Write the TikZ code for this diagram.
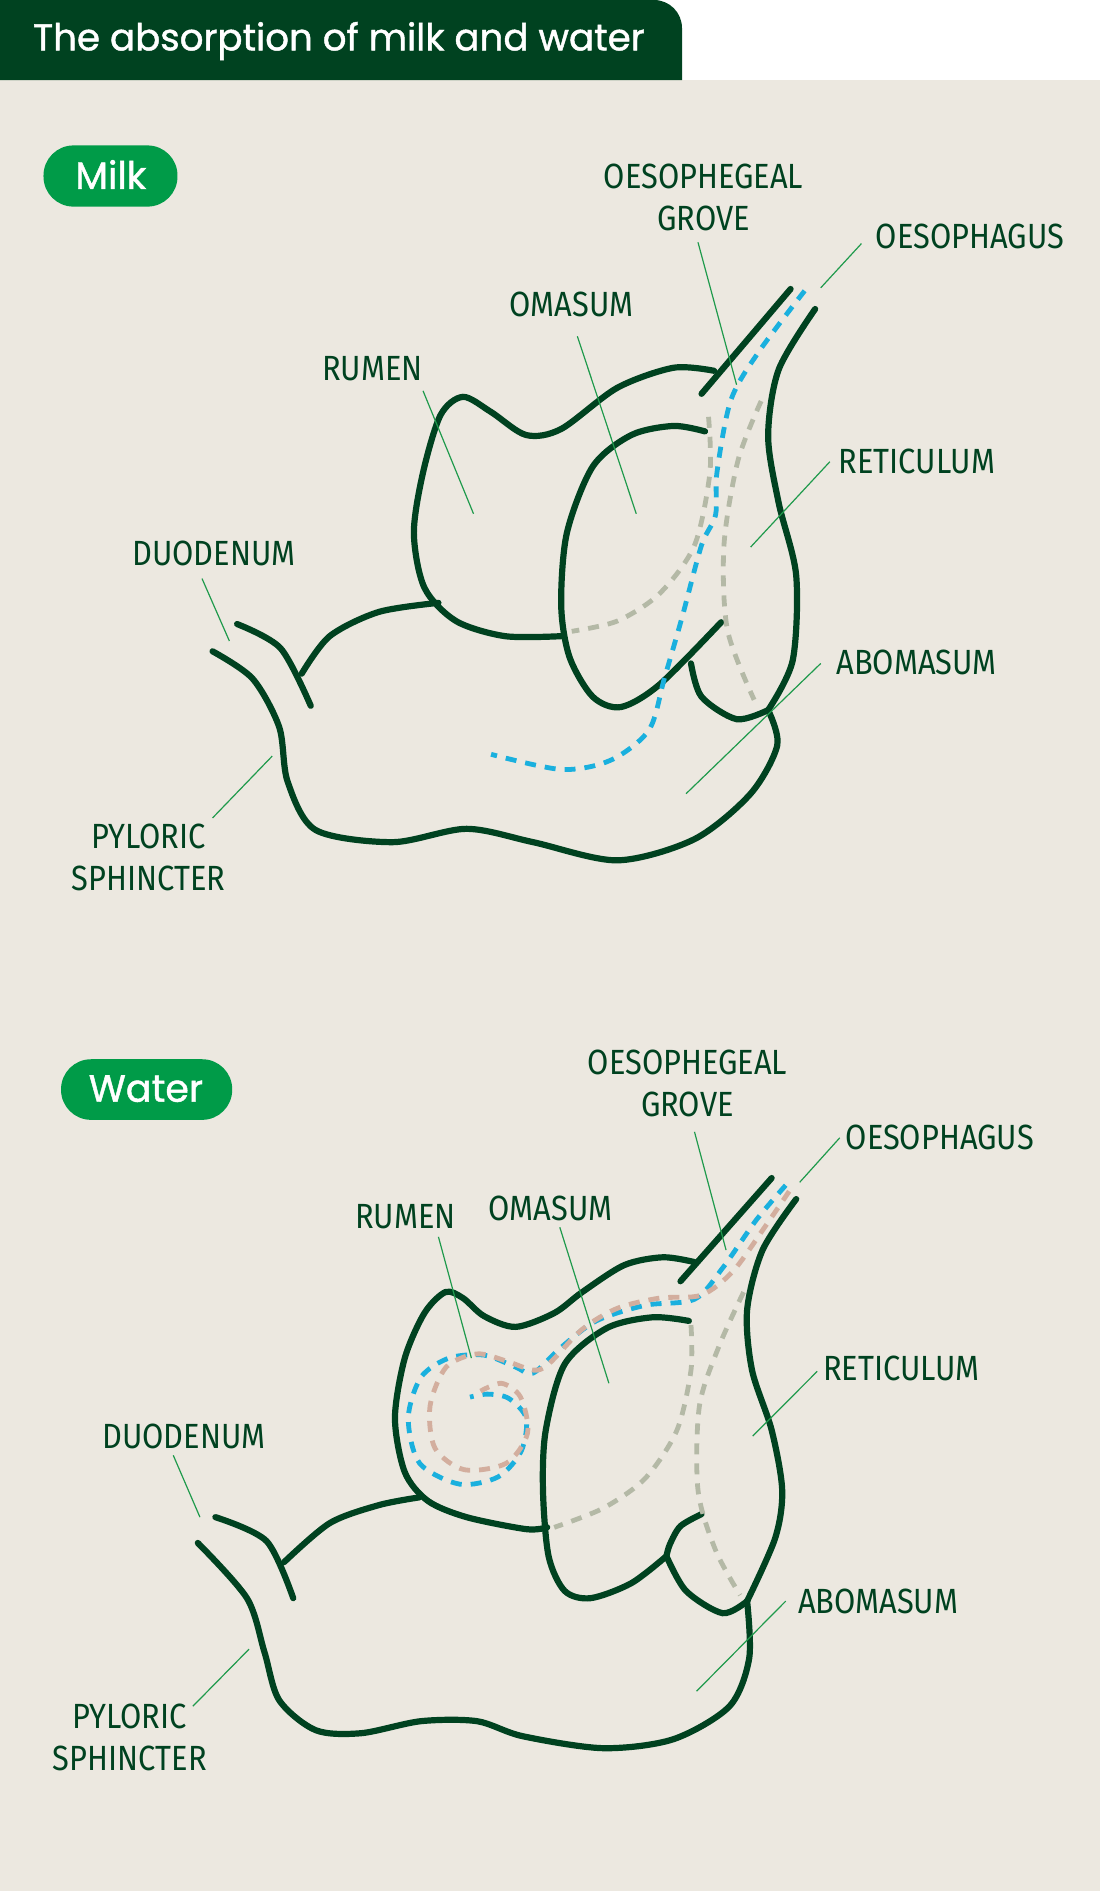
\documentclass[tikz,border=0pt]{standalone}
\usepackage{fontspec}
\newfontfamily\labfont[FakeStretch=0.88]{Fira Sans}
\newfontfamily\titfont[FakeBold=1.2]{Poppins}
\definecolor{dg}{HTML}{004220}
\definecolor{lg}{HTML}{1F9A4C}
\definecolor{pill}{HTML}{009B48}
\definecolor{bg}{HTML}{ECE8E0}
\definecolor{bl}{HTML}{1AB0DE}
\definecolor{gr}{HTML}{B4B9A6}
\definecolor{pk}{HTML}{D3AE9E}
\begin{document}
\begin{tikzpicture}[x=0.5pt,y=-0.5pt,
  organ/.style={draw=dg,line width=3.1pt,line cap=round},
  dsh/.style={line width=2.4pt,dash pattern=on 5.5pt off 4.5pt},
  lead/.style={draw=lg,line width=0.6pt},
  lab/.style={text=dg,font=\labfont\fontsize{17.5}{19}\selectfont,inner sep=0pt,align=center},
  pilltxt/.style={text=white,font=\titfont\fontsize{19}{22}\selectfont}]
\useasboundingbox (0,0) rectangle (1100,1891);
\fill[bg] (0,80) rectangle (1100,1891);
\fill[dg] (0,80) -- (0,0) [rounded corners=14pt] -- (682,0) [sharp corners] -- (682,80) -- cycle;
\node[text=white,font=\titfont\fontsize{18.6}{22}\selectfont,anchor=west] (title) at (26,41) {The absorption of milk and water};
% ---------- Milk ----------
\begin{scope}[x=0.35076pt,y=-0.30294pt]
\fill[pill,rounded corners=15pt] (62,240) rectangle (253,341);
\node[pilltxt] (milk) at (158,288) {Milk};
\draw[organ] (1000,650) -- (1127,477);
\draw[organ] plot[smooth] coordinates {(1162,510) (1110,610) (1095,720) (1110,830) (1135,950) (1130,1090) (1095,1172)};
\draw[organ] plot[smooth] coordinates {(1095,1172) (1108,1230) (1070,1310) (990,1385) (880,1420) (760,1390) (665,1368) (560,1390) (450,1370) (410,1290) (398,1200) (360,1120) (303,1075)};
\draw[organ] plot[smooth] coordinates {(1018,612) (960,607) (880,640) (800,708) (750,718) (700,680) (660,655) (628,685) (603,780) (590,880) (605,970) (650,1025) (720,1050) (800,1050)};
\draw[organ] plot[smooth] coordinates {(1005,712) (960,703) (900,718) (845,770) (808,880) (800,1000) (812,1085) (845,1150) (885,1167) (940,1130) (1028,1027)};
\draw[organ] plot[smooth] coordinates {(985,1095) (1000,1150) (1050,1187) (1095,1172)};
\draw[organ] plot[smooth] coordinates {(625,995) (540,1010) (470,1050) (430,1112)};
\draw[organ] plot[smooth] coordinates {(338,1030) (400,1070) (443,1165)};
\draw[gr,dsh] plot[smooth] coordinates {(1010,688) (1012,780) (990,900) (940,980) (880,1025) (815,1042)};
\draw[gr,dsh] plot[smooth] coordinates {(1085,662) (1052,760) (1032,900) (1037,1040) (1075,1155)};
\draw[bl,dsh] plot[smooth] coordinates {(1147,480) (1082,580) (1042,660) (1022,780) (1020,850) (1000,900) (972,1020) (947,1120) (925,1205) (870,1255) (800,1270) (700,1245)};
\node[lab] (og1) at (1003,326) {OESOPHEGEAL\\[2pt]GROVE};
\draw[lead] (995,400) -- (1050,635);
\node[lab,anchor=west] (oe1) at (1248,390) {OESOPHAGUS};
\draw[lead] (1228,402) -- (1170,475);
\node[lab] (om1) at (815,503) {OMASUM};
\draw[lead] (823,555) -- (907,848);
\node[lab] (ru1) at (531,608) {RUMEN};
\draw[lead] (603,645) -- (675,848);
\node[lab,anchor=west] (re1) at (1195,762) {RETICULUM};
\draw[lead] (1183,762) -- (1070,903);
\node[lab,anchor=west] (ab1) at (1192,1093) {ABOMASUM};
\draw[lead] (1170,1095) -- (978,1310);
\node[lab] (du1) at (305,913) {DUODENUM};
\draw[lead] (288,955) -- (327,1058);
\node[lab] (py1) at (212,1415) {PYLORIC\\[2pt]SPHINCTER};
\draw[lead] (303,1350) -- (388,1248);
\end{scope}
% ---------- Water ----------
\begin{scope}[x=0.35076pt,y=-0.30007pt,yshift=-475pt]
\fill[pill,rounded corners=15pt] (87,182) rectangle (331,283);
\node[pilltxt] (water) at (208,231) {Water};
\draw[organ] (970,552) -- (1100,380);
\draw[organ] plot[smooth] coordinates {(1135,415) (1087,500) (1065,600) (1072,700) (1100,800) (1115,900) (1105,980) (1065,1085)};
\draw[organ] plot[smooth] coordinates {(1065,1085) (1068,1180) (1040,1260) (960,1315) (860,1330) (745,1310) (680,1285) (600,1285) (515,1305) (450,1300) (398,1250) (377,1170) (352,1080) (282,988)};
\draw[organ] plot[smooth] coordinates {(990,520) (945,512) (890,525) (830,570) (790,605) (735,628) (690,610) (660,580) (635,570) (605,605) (577,680) (563,780) (577,870) (610,918) (665,945) (750,965) (780,962)};
\draw[organ] plot[smooth] coordinates {(982,618) (930,612) (865,630) (805,690) (778,800) (774,900) (782,1010) (805,1068) (842,1080) (900,1055) (950,1010)};
\draw[organ] plot[smooth] coordinates {(1000,940) (970,960) (955,990) (950,1010)};
\draw[organ] plot[smooth] coordinates {(950,1010) (978,1068) (1030,1105) (1065,1085)};
\draw[organ] plot[smooth] coordinates {(598,912) (540,925) (470,955) (405,1020)};
\draw[organ] plot[smooth] coordinates {(307,945) (380,985) (418,1080)};
\draw[gr,dsh] plot[smooth] coordinates {(985,625) (985,700) (965,800) (920,880) (860,930) (790,962)};
\draw[gr,dsh] plot[smooth] coordinates {(1060,570) (1025,660) (997,760) (995,900) (1020,1000) (1055,1075)};
\draw[bl,dsh] plot[smooth] coordinates {(1120,392) (1078,450) (1030,530) (990,582) (920,592) (850,618) (800,662) (760,705) (735,695) (690,675) (640,680) (600,712) (582,780) (598,855) (655,890) (710,878) (743,835) (750,780) (725,747) (695,740) (670,745)};
\draw[pk,dsh] plot[smooth] coordinates {(1125,402) (1090,462) (1045,535) (1000,575) (940,580) (880,597) (830,632) (782,690) (760,700) (722,685) (680,673) (636,695) (613,760) (620,830) (662,866) (722,855) (752,805) (742,745) (715,722) (685,735)};
\node[lab] (og2) at (980,222) {OESOPHEGEAL\\[2pt]GROVE};
\draw[lead] (990,303) -- (1035,500);
\node[lab,anchor=west] (oe2) at (1205,313) {OESOPHAGUS};
\draw[lead] (1197,313) -- (1140,387);
\node[lab] (ru2) at (578,445) {RUMEN};
\draw[lead] (625,478) -- (672,680);
\node[lab] (om2) at (785,430) {OMASUM};
\draw[lead] (798,462) -- (868,722);
\node[lab,anchor=west] (re2) at (1173,698) {RETICULUM};
\draw[lead] (1165,702) -- (1073,810);
\node[lab,anchor=west] (ab2) at (1137,1085) {ABOMASUM};
\draw[lead] (1120,1085) -- (993,1235);
\node[lab] (du2) at (262,810) {DUODENUM};
\draw[lead] (247,842) -- (285,945);
\node[lab] (py2) at (185,1312) {PYLORIC\\[2pt]SPHINCTER};
\draw[lead] (275,1260) -- (355,1165);
\end{scope}
\end{tikzpicture}
\end{document}
